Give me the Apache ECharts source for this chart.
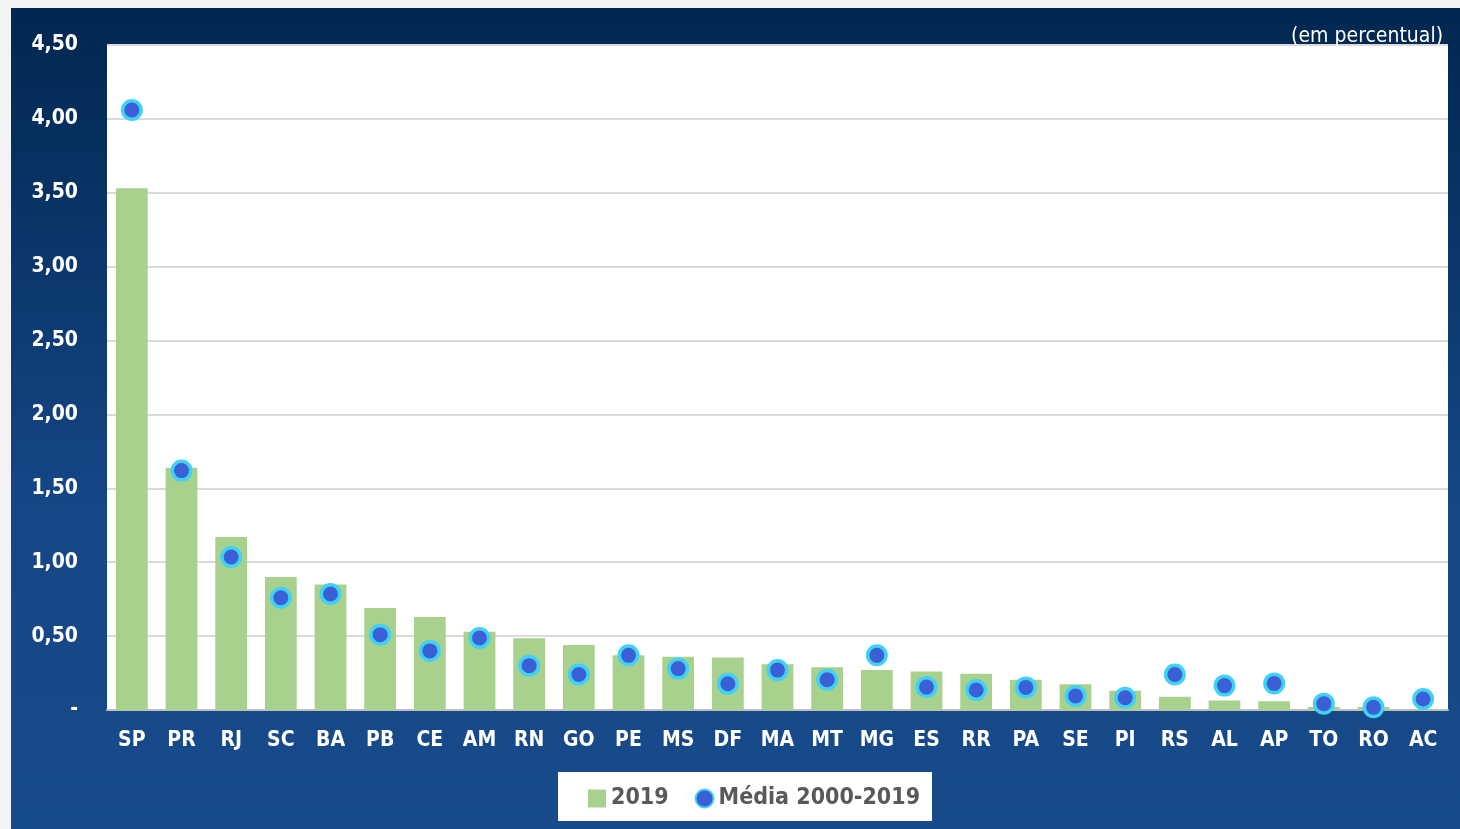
<!DOCTYPE html>
<html><head><meta charset="utf-8">
<script src="https://cdn.jsdelivr.net/npm/echarts@6/dist/echarts.min.js"></script>
<style>
html,body{margin:0;padding:0;background:#f3f3f3;width:1460px;height:829px;overflow:hidden}
#c{position:absolute;left:11px;top:8px;width:1449px;height:821px}
</style></head><body>
<div id="c"></div>
<script>
const categories = ['SP','PR','RJ','SC','BA','PB','CE','AM','RN','GO','PE','MS','DF','MA','MT','MG','ES','RR','PA','SE','PI','RS','AL','AP','TO','RO','AC'];
const values2019 = [3.53,1.64,1.17,0.90,0.85,0.69,0.63,0.53,0.485,0.44,0.37,0.36,0.355,0.31,0.29,0.27,0.26,0.245,0.205,0.175,0.13,0.09,0.065,0.06,0.02,0.02,0.005];
const media2000_2019 = [4.06,1.62,1.035,0.76,0.785,0.51,0.40,0.487,0.30,0.24,0.37,0.28,0.178,0.27,0.205,0.37,0.155,0.135,0.153,0.095,0.083,0.24,0.165,0.18,0.043,0.018,0.074];
const yTicks = ['-','0,50','1,00','1,50','2,00','2,50','3,00','3,50','4,00','4,50'];

const FONT = "'Liberation Sans Narrow','DejaVu Sans Condensed','Roboto Condensed',sans-serif";
const chart = echarts.init(document.getElementById('c'));
chart.setOption({
  backgroundColor: new echarts.graphic.LinearGradient(0,0,0,1,[
    {offset:0,color:'#00274f'},{offset:0.6,color:'#154686'},{offset:1,color:'#184b8b'}]),
  animation:false,
  grid:{left:96,top:37,right:12,bottom:119,show:true,backgroundColor:'#ffffff',borderWidth:0},
  title:{text:'(em percentual)',right:12,top:13,textStyle:{color:'#ffffff',fontFamily:FONT,fontSize:21,fontWeight:'normal'}},
  graphic:[{type:'rect',left:547,top:764,shape:{width:374,height:49},style:{fill:'#ffffff'},z:-1}],
  legend:{left:577,top:779,padding:0,itemGap:26,
    itemWidth:18,itemHeight:18,
    textStyle:{color:'#595959',fontFamily:FONT,fontSize:23,fontWeight:'bold',padding:[0,0,0,0]},
    data:[{name:'2019',icon:'rect',itemStyle:{borderWidth:0}},{name:'Média 2000-2019',icon:'circle'}]},
  xAxis:{type:'category',data:categories,
    axisLine:{lineStyle:{color:'#bfbfbf',width:2}},axisTick:{show:false},
    axisLabel:{color:'#ffffff',fontFamily:FONT,fontSize:21,fontWeight:'bold',margin:20,interval:0}},
  yAxis:{type:'value',min:0,max:4.5,interval:0.5,
    axisLine:{show:false},axisTick:{show:false},
    splitLine:{lineStyle:{color:'#d9d9d9',width:2}},
    axisLabel:{color:'#ffffff',fontFamily:FONT,fontSize:21,fontWeight:'bold',margin:29,
      formatter:(v)=>yTicks[Math.round(v/0.5)]}},
  series:[
    {name:'2019',type:'bar',data:values2019,barCategoryGap:'36%',
      itemStyle:{color:'#a9d18e'}},
    {name:'Média 2000-2019',type:'scatter',data:media2000_2019,symbol:'circle',symbolSize:18.5,z:5,
      itemStyle:{color:'#3b5fd6',borderColor:'#3fd2f5',borderWidth:3.5,opacity:1}}
  ]
});
</script></body></html>
